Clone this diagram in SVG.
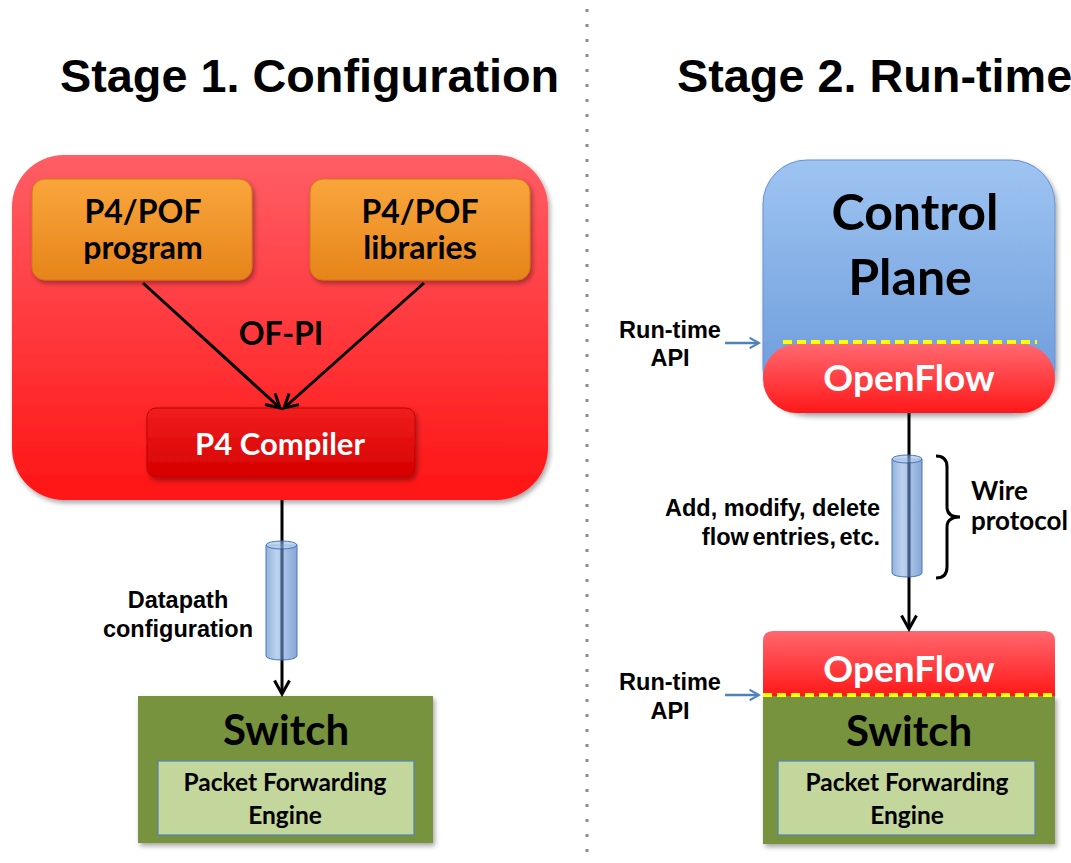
<svg xmlns="http://www.w3.org/2000/svg" width="1071" height="863" viewBox="0 0 1071 863">
  <style>
    .title { font-family: "Liberation Sans", Arial, sans-serif; font-weight: bold; font-size: 46.8px; fill: #000; }
    .lbl { font-family: "Liberation Sans", Arial, sans-serif; font-weight: bold; font-size: 23.5px; fill: #000; }
    .cal { font-family: Lato, "Open Sans", sans-serif; font-weight: bold; }
    .dark { fill: #000; }
    .white { fill: #fff; }
    .conn { stroke: #000; stroke-width: 3; fill: none; }
    .api { stroke: #4F81BD; stroke-width: 2.5; fill: none; }
    .seam { stroke: #FFFF00; stroke-width: 4; stroke-dasharray: 9 5; }
    .core { stroke: #1F3F6E; stroke-width: 3; stroke-opacity: 0.55; }
  </style>
  <defs>
    <linearGradient id="gRedBig" x1="0" y1="0" x2="0" y2="1">
      <stop offset="0" stop-color="#FF5E66"/>
      <stop offset="1" stop-color="#FF1414"/>
    </linearGradient>
    <linearGradient id="gOrange" x1="0" y1="0" x2="0" y2="1">
      <stop offset="0" stop-color="#F9A63C"/>
      <stop offset="1" stop-color="#E6841A"/>
    </linearGradient>
    <linearGradient id="gComp" x1="0" y1="0" x2="0" y2="1">
      <stop offset="0" stop-color="#F01E1E"/>
      <stop offset="1" stop-color="#D60000"/>
    </linearGradient>
    <linearGradient id="gBlue" x1="0" y1="0" x2="0" y2="1">
      <stop offset="0" stop-color="#9EC4F1"/>
      <stop offset="1" stop-color="#6898DA"/>
    </linearGradient>
    <linearGradient id="gPill" x1="0" y1="0" x2="0" y2="1">
      <stop offset="0" stop-color="#FF6870"/>
      <stop offset="1" stop-color="#FF1818"/>
    </linearGradient>
    <linearGradient id="gCyl" x1="0" y1="0" x2="1" y2="0">
      <stop offset="0" stop-color="#6F98D4"/>
      <stop offset="0.35" stop-color="#A9C4EA"/>
      <stop offset="1" stop-color="#5E89C8"/>
    </linearGradient>
    <filter id="shadow" x="-10%" y="-10%" width="125%" height="130%">
      <feDropShadow dx="2" dy="3" stdDeviation="2.5" flood-color="#000" flood-opacity="0.35"/>
    </filter>
    <marker id="arrowBlack" viewBox="0 0 12 12" refX="10" refY="6" markerWidth="6" markerHeight="6" orient="auto" markerUnits="strokeWidth">
      <path d="M1,1 L10,6 L1,11" fill="none" stroke="#000" stroke-width="2"/>
    </marker>
    <marker id="arrowBlue" viewBox="0 0 12 12" refX="10" refY="6" markerWidth="5" markerHeight="5" orient="auto" markerUnits="strokeWidth">
      <path d="M1,1 L10,6 L1,11" fill="none" stroke="#4F81BD" stroke-width="2"/>
    </marker>
  </defs>

  <rect width="1071" height="863" fill="#fff"/>

  <!-- divider between the two stages -->
  <line x1="587" y1="9" x2="587" y2="863" stroke="#8c8c8c" stroke-width="3" stroke-dasharray="3 12"/>

  <text class="title" x="60" y="92">Stage 1. Configuration</text>
  <text class="title" x="677" y="92">Stage 2. Run-time</text>

  <!-- Stage 1 -->
  <g id="config-container">
    <rect x="12" y="155" width="536" height="345" rx="52" fill="url(#gRedBig)" filter="url(#shadow)"/>
  </g>

  <g id="p4-program">
    <rect x="32" y="179" width="220" height="101" rx="13" fill="url(#gOrange)" stroke="#D07818" stroke-width="1" filter="url(#shadow)"/>
    <text class="cal dark" x="143" y="223" font-size="32" text-anchor="middle">P4/POF</text>
    <text class="cal dark" x="143" y="259" font-size="32" text-anchor="middle">program</text>
  </g>

  <g id="p4-libraries">
    <rect x="310" y="179" width="220" height="101" rx="13" fill="url(#gOrange)" stroke="#D07818" stroke-width="1" filter="url(#shadow)"/>
    <text class="cal dark" x="420" y="223" font-size="32" text-anchor="middle">P4/POF</text>
    <text class="cal dark" x="420" y="259" font-size="32" text-anchor="middle">libraries</text>
  </g>

  <g id="p4-compiler">
    <rect x="147" y="408" width="268" height="69" rx="9" fill="url(#gComp)" stroke="#C00000" stroke-width="1" filter="url(#shadow)"/>
    <text class="cal white" x="280" y="455" font-size="31" text-anchor="middle">P4 Compiler</text>
  </g>

  <g id="switch-left">
    <rect x="138" y="696" width="295" height="147" fill="#77933C" filter="url(#shadow)"/>
    <text class="cal dark" x="286" y="745" font-size="42" text-anchor="middle">Switch</text>
    <rect x="158" y="761" width="256" height="74" fill="#C3D69B" stroke="#4F81BD" stroke-width="1.2"/>
    <text class="cal dark" x="285" y="791" font-size="24.5" text-anchor="middle">Packet Forwarding</text>
    <text class="cal dark" x="285" y="824" font-size="24.5" text-anchor="middle">Engine</text>
  </g>

  <!-- Stage 2 -->
  <g id="control-plane">
    <rect x="763" y="160" width="292" height="253" rx="44" fill="url(#gBlue)" stroke="#6690CF" stroke-width="1" filter="url(#shadow)"/>
    <text class="cal dark" x="915" y="230" font-size="50" text-anchor="middle">Control</text>
    <text class="cal dark" x="910" y="295" font-size="50" text-anchor="middle">Plane</text>
    <rect x="763" y="344" width="292" height="69" rx="34" fill="url(#gPill)"/>
    <line class="seam" x1="783" y1="342" x2="1037" y2="342"/>
    <text class="cal white" x="909" y="391" font-size="37" text-anchor="middle">OpenFlow</text>
  </g>

  <g id="switch-right">
    <rect x="763" y="696" width="292" height="148" fill="#77933C" filter="url(#shadow)"/>
    <path d="M763,696 V641 Q763,631 773,631 H1045 Q1055,631 1055,641 V696 Z" fill="url(#gPill)"/>
    <line class="seam" x1="763" y1="695" x2="1055" y2="695"/>
    <text class="cal white" x="909" y="682" font-size="37" text-anchor="middle">OpenFlow</text>
    <text class="cal dark" x="909" y="746" font-size="42" text-anchor="middle">Switch</text>
    <rect x="778" y="761" width="257" height="74" fill="#C3D69B" stroke="#4F81BD" stroke-width="1.2"/>
    <text class="cal dark" x="907" y="791" font-size="24.5" text-anchor="middle">Packet Forwarding</text>
    <text class="cal dark" x="907" y="824" font-size="24.5" text-anchor="middle">Engine</text>
  </g>

  <g id="connectors">
    <line class="conn" x1="143" y1="283" x2="280" y2="408" marker-end="url(#arrowBlack)"/>
    <line class="conn" x1="424" y1="283" x2="284" y2="408" marker-end="url(#arrowBlack)"/>
    <line class="conn" x1="282" y1="500" x2="282" y2="694" marker-end="url(#arrowBlack)"/>
    <line class="conn" x1="909" y1="413" x2="909" y2="629" marker-end="url(#arrowBlack)"/>
    <line class="api" x1="725" y1="343" x2="759" y2="343" marker-end="url(#arrowBlue)"/>
    <line class="api" x1="725" y1="695" x2="759" y2="695" marker-end="url(#arrowBlue)"/>
  </g>

  <!-- translucent channel cylinders over the links, link still visible inside -->
  <g id="pipe-left">
    <path d="M266,545 V656 A15.5,4 0 0 0 297,656 V545 Z" fill="url(#gCyl)" fill-opacity="0.75" stroke="#4A76B5" stroke-width="1"/>
    <ellipse cx="281.5" cy="545" rx="15.5" ry="4" fill="#B7CEEE" fill-opacity="0.8" stroke="#4A76B5" stroke-width="1"/>
    <line class="core" x1="282" y1="541" x2="282" y2="660"/>
  </g>
  <g id="pipe-right">
    <path d="M892,459 V573 A15,4 0 0 0 922,573 V459 Z" fill="url(#gCyl)" fill-opacity="0.75" stroke="#4A76B5" stroke-width="1"/>
    <ellipse cx="907" cy="459" rx="15" ry="4" fill="#B7CEEE" fill-opacity="0.8" stroke="#4A76B5" stroke-width="1"/>
    <line class="core" x1="909" y1="455" x2="909" y2="577"/>
  </g>

  <text class="cal dark" x="281" y="345" font-size="32" text-anchor="middle">OF-PI</text>

  <text class="lbl" x="178" y="608" text-anchor="middle">Datapath</text>
  <text class="lbl" x="178" y="637" text-anchor="middle">configuration</text>

  <text class="lbl" x="670" y="338" text-anchor="middle">Run-time</text>
  <text class="lbl" x="670" y="366" text-anchor="middle">API</text>
  <text class="lbl" x="670" y="690" text-anchor="middle">Run-time</text>
  <text class="lbl" x="670" y="719" text-anchor="middle">API</text>

  <text class="lbl" x="880" y="516" text-anchor="end">Add, modify, delete</text>
  <text class="lbl" x="880" y="545" text-anchor="end" word-spacing="-3">flow entries, etc.</text>

  <g id="wire-brace">
    <path d="M936,456 Q947,456 947,467 V507 Q947,517 960,517 Q947,517 947,527 V567 Q947,578 936,578" fill="none" stroke="#000" stroke-width="3"/>
  </g>
  <text class="cal dark" x="971" y="500" font-size="26">Wire</text>
  <text class="cal dark" x="971" y="530" font-size="26">protocol</text>
</svg>
